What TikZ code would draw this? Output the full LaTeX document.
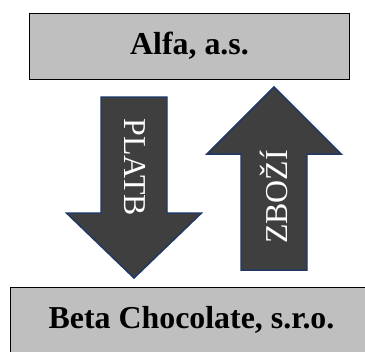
\documentclass[tikz,border=0pt]{standalone}
\usepackage{fontspec}
\setmainfont{Liberation Serif}
\definecolor{boxgray}{HTML}{BFBFBF}
\definecolor{arrowfill}{HTML}{3F3F3F}
\definecolor{arrowedge}{HTML}{1F3864}
\tikzset{
  company/.style={draw=black, line width=1pt, fill=boxgray},
  blockarrow/.style={draw=arrowedge, line width=1.5pt, fill=arrowfill, line join=miter},
  arrowtext/.style={text=white, font=\fontsize{32}{38}\selectfont, inner sep=0pt},
  boxtext/.style={font=\fontsize{32}{38}\selectfont\bfseries, inner sep=0pt}
}
\begin{document}
\begin{tikzpicture}[x=1bp, y=-1bp]
\useasboundingbox (0,0) rectangle (365,352);
\clip (0,0) rectangle (365,352);
% top box
\draw[company] (29,13) rectangle (349.5,79);
\node[boxtext] (alfa) at (189.5,46) {Alfa, a.s.};
% bottom box
\draw[company] (10.5,287.5) rectangle (380,370);
\node[boxtext, anchor=base] (beta) at (191.5,328) {Beta Chocolate, s.r.o.};
% down arrow
\draw[blockarrow] (101,97) -- (167,97) -- (167,213) -- (201.5,213) -- (134,278) -- (66.5,213) -- (101,213) -- cycle;
\node[arrowtext, rotate=-90] (platb) at (135,167) {PLATB};
% up arrow
\draw[blockarrow] (274,87) -- (341,154) -- (307,154) -- (307,270) -- (241,270) -- (241,154) -- (207,154) -- cycle;
\node[arrowtext, rotate=90] (zbozi) at (274,197) {ZBOŽÍ};
\end{tikzpicture}
\end{document}
